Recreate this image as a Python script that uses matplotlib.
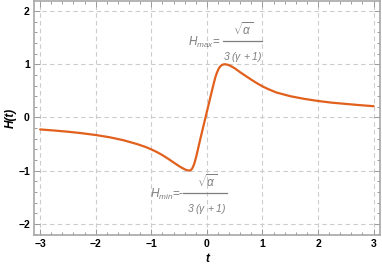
import matplotlib
matplotlib.use("Agg")
import matplotlib.pyplot as plt
from matplotlib.ticker import MultipleLocator
from matplotlib.lines import Line2D

plt.rcParams['font.family'] = ['Liberation Sans', 'DejaVu Sans']
plt.rcParams['mathtext.fontset'] = 'custom'
plt.rcParams['mathtext.rm'] = 'Liberation Sans:italic'
plt.rcParams['mathtext.it'] = 'Liberation Sans:italic'
plt.rcParams['mathtext.bf'] = 'Liberation Sans:bold'

# data
t_vals = [-3.0, -2.75, -2.5, -2.25, -2.0, -1.75, -1.5, -1.25, -1.1, -1.0, -0.9, -0.8,
          -0.7, -0.6, -0.5, -0.45, -0.41, -0.38, -0.35, -0.32, -0.295, -0.27, -0.25,
          -0.23, -0.21, -0.19, -0.17, -0.14, -0.11, -0.08, -0.05, -0.02, 0.01, 0.04,
          0.07, 0.10, 0.13, 0.15, 0.17, 0.19, 0.21, 0.23, 0.25, 0.28, 0.31, 0.34,
          0.38, 0.42, 0.46, 0.5, 0.6, 0.7, 0.8, 0.9, 1.0, 1.1, 1.25, 1.5, 1.75, 2.0,
          2.25, 2.5, 2.75, 3.0]
H_vals = [-0.225, -0.245, -0.268, -0.296, -0.330, -0.372, -0.428, -0.502, -0.556, -0.600,
          -0.650, -0.708, -0.774, -0.845, -0.915, -0.946, -0.968, -0.983, -0.994, -0.999,
          -0.993, -0.97, -0.93, -0.88, -0.81, -0.73, -0.64, -0.505, -0.37, -0.24, -0.11,
          0.02, 0.15, 0.28, 0.41, 0.54, 0.665, 0.745, 0.81, 0.865, 0.91, 0.945, 0.97,
          0.99, 1.0, 0.999, 0.99, 0.973, 0.95, 0.925, 0.85, 0.78, 0.71, 0.645, 0.585,
          0.535, 0.47, 0.40, 0.35, 0.31, 0.278, 0.255, 0.232, 0.212]
x_ticks = [-3, -2, -1, 0, 1, 2, 3]
y_ticks = [-2, -1, 0, 1, 2]

W, Hh = 382, 273
fig = plt.figure(figsize=(W/100, Hh/100), dpi=100)
ax = fig.add_axes([34/W, 38/Hh, 346/W, 234/Hh])

ax.plot(t_vals, H_vals, color='#E2601D', lw=1.6, solid_capstyle='round',
        solid_joinstyle='round', zorder=3)

ax.set_xlim(-3.11, 3.115)
ax.set_ylim(-2.21, 2.19)
ax.set_xticks(x_ticks)
ax.set_yticks(y_ticks)
ax.set_xticklabels([str(v).replace('-', '\u2212') for v in x_ticks], fontweight='bold', fontsize=7.5)
ax.set_yticklabels([str(v).replace('-', '\u2212') for v in y_ticks], fontweight='bold', fontsize=7.5)
ax.xaxis.set_minor_locator(MultipleLocator(0.2))
ax.yaxis.set_minor_locator(MultipleLocator(0.2))
ax.tick_params(which='both', direction='in', top=True, right=True, color='#9a9a9a', width=0.7)
ax.tick_params(which='major', length=4, pad=3)
ax.tick_params(which='minor', length=2)
for s in ax.spines.values():
    s.set_color('#a8a8a8')
    s.set_linewidth(1.2)
ax.grid(True, which='major', color='#cccccc', ls=(0, (4, 3)), lw=0.8)

ax.set_xlabel('t', fontstyle='italic', fontweight='bold', fontsize=8.5, labelpad=3)
ax.set_ylabel('H(t)', fontstyle='italic', fontweight='bold', fontsize=8.5, labelpad=1)

gray = '#7f7f7f'
def fx(px): return px / W
def fy(py): return 1 - py / Hh

# H_max annotation
fig.text(fx(188), fy(46), r'$H_{max}$=', color=gray, fontsize=8.5, ha='left', va='baseline')
fig.add_artist(Line2D([fx(223), fx(262)], [fy(40.7), fy(40.7)], color=gray, lw=0.9, transform=fig.transFigure))
fig.text(fx(243), fy(35), r'$\sqrt{\alpha}$', color=gray, fontsize=8.5, ha='center', va='baseline')
fig.text(fx(243), fy(60), r'$3\;(\gamma\;+1)$', color=gray, fontsize=7.5, ha='center', va='baseline')

# H_min annotation
fig.text(fx(150), fy(198), r'$H_{min}$=-', color=gray, fontsize=8.5, ha='left', va='baseline')
fig.add_artist(Line2D([fx(183), fx(227)], [fy(193.3), fy(193.3)], color=gray, lw=0.9, transform=fig.transFigure))
fig.text(fx(207), fy(187), r'$\sqrt{\alpha}$', color=gray, fontsize=8.5, ha='center', va='baseline')
fig.text(fx(207), fy(212), r'$3\;(\gamma\;+1)$', color=gray, fontsize=7.5, ha='center', va='baseline')

fig.savefig('out.png', dpi=100)
